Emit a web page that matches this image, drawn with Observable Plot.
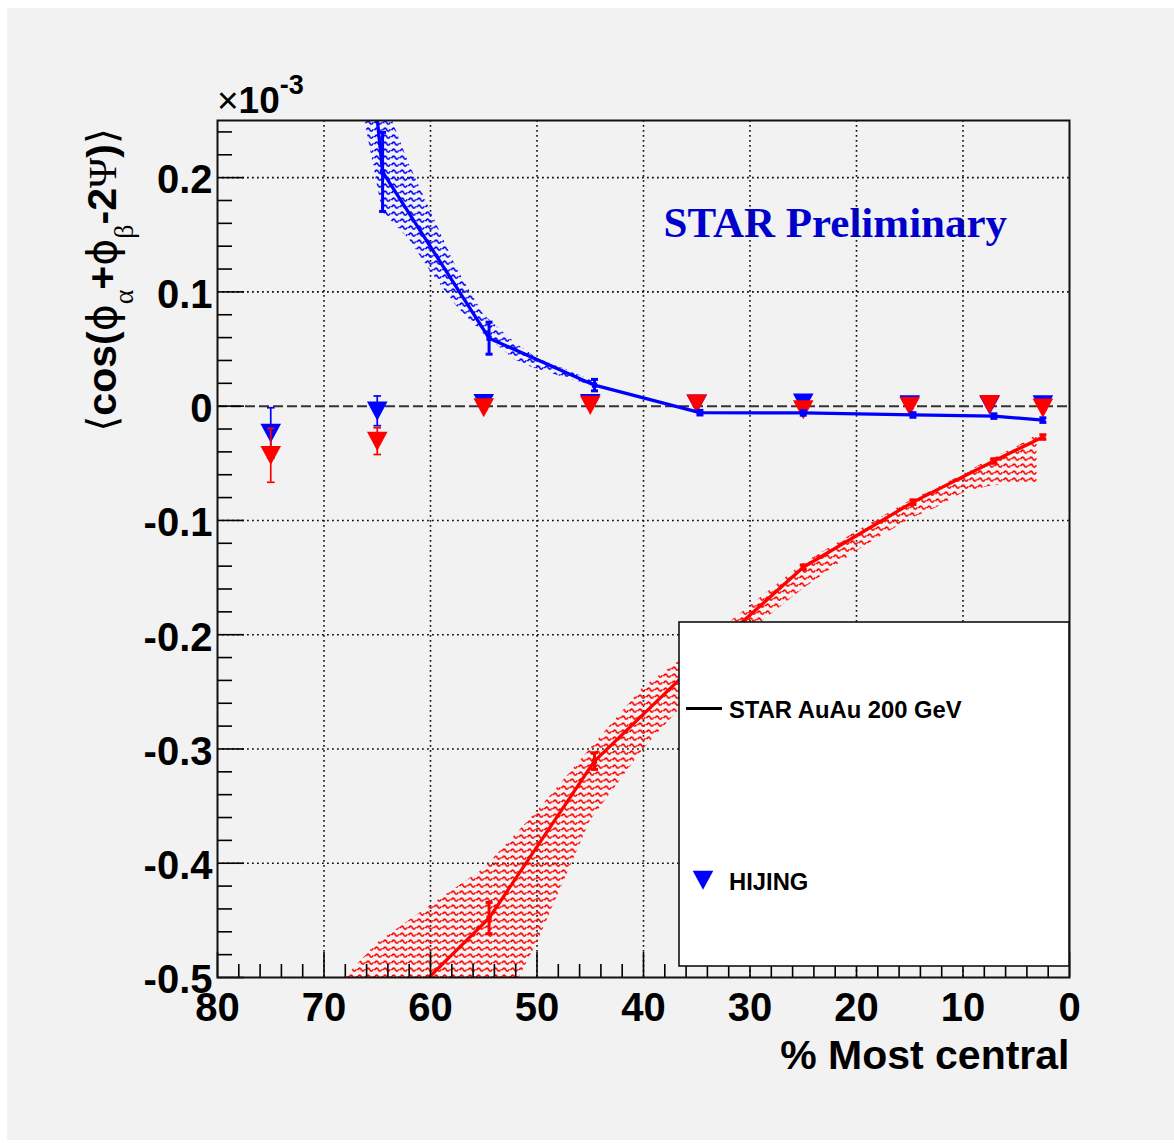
<!DOCTYPE html>
<html><head><meta charset="utf-8">
<script src="https://cdn.jsdelivr.net/npm/d3@7"></script>
<script src="https://cdn.jsdelivr.net/npm/@observablehq/plot@0.6"></script>
<style>
body{margin:0;background:#fff;}
#wrap{position:relative;width:1174px;height:1143px;overflow:hidden;}
#bg{position:absolute;left:7px;top:8px;width:1167px;height:1132px;background:#f2f2f2;}
#chart{position:absolute;left:0;top:0;}
</style></head><body>
<svg width="0" height="0" style="position:absolute">
<defs>
<pattern id="hatchBlue" patternUnits="userSpaceOnUse" width="8.5" height="7">
<path d="M0.6,4.2 C1.8,1.5 3.2,1.5 4.2,3.6 S6.6,5.9 7.8,3.2" fill="none" stroke="#0000ff" stroke-width="1.6"/>
</pattern>
<pattern id="hatchRed" patternUnits="userSpaceOnUse" width="8.5" height="7">
<path d="M0.6,4.2 C1.8,1.5 3.2,1.5 4.2,3.6 S6.6,5.9 7.8,3.2" fill="none" stroke="#ff0000" stroke-width="1.6"/>
</pattern>
</defs></svg>
<div id="wrap"><div id="bg"></div><div id="chart"></div></div>
<script>
// ---- data (y in units of 1e-3) ----
// STAR AuAu 200 GeV, same-charge (blue line)
const starSameX   = [74.5, 64.5, 54.5, 44.6, 34.7, 25, 14.7, 7.1, 2.5];
const starSameY   = [1.13, 0.205, 0.0595, 0.0184, -0.0057, -0.0059, -0.0077, -0.0087, -0.0122];
const starSameErr = [0, 0.0346, 0.014, 0.005, 0.002, 0.002, 0.002, 0.002, 0.002];
// STAR AuAu 200 GeV, opposite-charge (red line)
const starOppX    = [64.5, 54.5, 44.6, 34.7, 25, 14.7, 7.1, 2.5];
const starOppY    = [-0.54, -0.448, -0.3106, -0.222, -0.141, -0.084, -0.048, -0.027];
const starOppErr  = [0, 0.0137, 0.0073, 0.003, 0.002, 0.002, 0.002, 0.002];
// systematic bands
const sameBandX  = [67, 64.5, 62, 60, 57.5, 55, 52, 50, 47, 44.5];
const sameBandLo = [0.29, 0.17, 0.146, 0.118, 0.087, 0.063, 0.040, 0.032, 0.024, 0.017];
const sameBandHi = [0.45, 0.272, 0.212, 0.171, 0.12, 0.08, 0.055, 0.042, 0.031, 0.021];
const oppBandX  = [3, 5, 7.5, 10, 12.5, 15, 20, 25, 30, 35, 40, 45, 50, 55, 60, 65, 70];
const oppBandHi = [-0.025, -0.036, -0.047, -0.060, -0.072, -0.083, -0.110, -0.138, -0.175, -0.212, -0.246, -0.300, -0.355, -0.405, -0.437, -0.47, -0.52];
const oppBandLo = [-0.067, -0.068, -0.070, -0.076, -0.089, -0.099, -0.127, -0.160, -0.197, -0.249, -0.300, -0.363, -0.47, -0.56, -0.62, -0.68, -0.74];
// HIJING
const hijX       = [75, 65, 55, 45, 35, 25, 15, 7.5, 2.5];
const hijSameY   = [-0.0234, -0.0041, 0.0026, 0.0026, 0.0022, 0.0029, 0.0015, 0.001, 0.0015];
const hijSameErr = [0.022, 0.013, 0.002, 0.002, 0.002, 0.002, 0.002, 0.002, 0.002];
const hijOppY    = [-0.043, -0.0306, -0.0011, 0.0009, 0.0022, -0.0029, 0, 0.0017, -0.0015];
const hijOppErr  = [0.0236, 0.0117, 0.002, 0.002, 0.002, 0.002, 0.002, 0.002, 0.002];
// axes
const xMajor = [80, 70, 60, 50, 40, 30, 20, 10, 0];
const xLabels = ["80", "70", "60", "50", "40", "30", "20", "10", "0"];
const yMajor = [-0.5, -0.4, -0.3, -0.2, -0.1, 0, 0.1, 0.2];
const yLabels = ["-0.5", "-0.4", "-0.3", "-0.2", "-0.1", "0", "0.1", "0.2"];
const xMinor = d3.range(0, 81, 2).filter(v => v % 10 !== 0);
const yMinor = d3.range(-25, 13).map(k => k * 0.02).filter(v => Math.abs(v * 10 - Math.round(v * 10)) > 1e-6 && v < 0.251);

// ---- build tables ----
const sameStar = starSameX.map((x, i) => ({x, y: starSameY[i], e: starSameErr[i]}));
const oppStar  = starOppX.map((x, i) => ({x, y: starOppY[i], e: starOppErr[i]}));
const sameBand = sameBandX.map((x, i) => ({x, lo: sameBandLo[i], hi: sameBandHi[i]}));
const oppBand  = oppBandX.map((x, i) => ({x, lo: oppBandLo[i], hi: oppBandHi[i]}));
const hijSame  = hijX.map((x, i) => ({x, y: hijSameY[i], e: hijSameErr[i]}));
const hijOpp   = hijX.map((x, i) => ({x, y: hijOppY[i], e: hijOppErr[i]}));
const sameErrPts = sameStar.filter(d => d.e > 0);
const oppErrPts  = oppStar.filter(d => d.e > 0);

const triDown = {draw(ctx, size) { const r = Math.sqrt(size / Math.PI); ctx.moveTo(-r, -0.9 * r); ctx.lineTo(r, -0.9 * r); ctx.lineTo(0, 0.95 * r); ctx.closePath(); }};
const capSym  = {draw(ctx, size) { const r = Math.sqrt(size / Math.PI); ctx.moveTo(-r, 0); ctx.lineTo(r, 0); }};

const FONT = "Liberation Sans, Arial, Helvetica, sans-serif";
const innerW = 852, innerH = 857;

function errMarks(data, color, width, capR) {
  return [
    Plot.ruleX(data, {x: "x", y1: d => d.y - d.e, y2: d => d.y + d.e, stroke: color, strokeWidth: width, clip: true}),
    Plot.dot(data, {x: "x", y: d => d.y + d.e, symbol: capSym, r: capR, stroke: color, strokeWidth: width, fill: "none", clip: true}),
    Plot.dot(data, {x: "x", y: d => d.y - d.e, symbol: capSym, r: capR, stroke: color, strokeWidth: width, fill: "none", clip: true})
  ];
}

const plot = Plot.plot({
  width: 1174, height: 1143,
  marginLeft: 217, marginRight: 105, marginTop: 120, marginBottom: 166,
  style: {background: "transparent", color: "black", overflow: "visible", fontFamily: FONT},
  x: {domain: [80, 0], axis: null},
  y: {domain: [-0.5, 0.25], axis: null},
  marks: [
    Plot.text(["STAR Preliminary"], {text: d => d, frameAnchor: "top-left", dx: 446, dy: 116, textAnchor: "start", lineAnchor: "bottom",
      fontFamily: "Liberation Serif, DejaVu Serif, serif", fontWeight: "bold", fontSize: 43, fill: "#0000cc"}),
    Plot.gridX(xMajor.filter(v => v > 0 && v < 80), {stroke: "#111", strokeOpacity: 1, strokeWidth: 1.6, strokeDasharray: "1.8,3.2"}),
    Plot.gridY(yMajor.filter(v => v > -0.5 && v !== 0), {stroke: "#111", strokeOpacity: 1, strokeWidth: 1.6, strokeDasharray: "1.8,3.2"}),
    Plot.ruleY([0], {stroke: "#333", strokeWidth: 2, strokeDasharray: "10,4"}),
    // bands
    Plot.areaY(sameBand, {x: "x", y1: "lo", y2: "hi", fill: "url(#hatchBlue)", clip: true}),
    Plot.areaY(oppBand, {x: "x", y1: "lo", y2: "hi", fill: "url(#hatchRed)", clip: true}),
    // HIJING
    ...errMarks(hijSame, "#0000ff", 1.7, 3.8),
    Plot.dot(hijSame, {x: "x", y: "y", symbol: triDown, r: 10.3, fill: "#0000ff", clip: true}),
    ...errMarks(hijOpp, "#ff0000", 1.7, 3.8),
    Plot.dot(hijOpp, {x: "x", y: "y", symbol: triDown, r: 10.3, fill: "#ff0000", clip: true}),
    // STAR
    Plot.line(oppStar, {x: "x", y: "y", stroke: "#ff0000", strokeWidth: 3.3, clip: true}),
    ...errMarks(oppErrPts, "#ff0000", 3, 3.5),
    Plot.dot(oppStar, {x: "x", y: "y", symbol: "square", r: 3, fill: "#ff0000", clip: true}),
    Plot.line(sameStar, {x: "x", y: "y", stroke: "#0000ff", strokeWidth: 3.3, clip: true}),
    ...errMarks(sameErrPts, "#0000ff", 3, 3.5),
    Plot.dot(sameStar, {x: "x", y: "y", symbol: "square", r: 3, fill: "#0000ff", clip: true}),
    // ticks (inside, ROOT style)
    Plot.tickX(xMajor, {x: d => d, insetTop: innerH - 25, stroke: "#000", strokeWidth: 1.6}),
    Plot.tickX(xMinor, {x: d => d, insetTop: innerH - 13, stroke: "#000", strokeWidth: 1.6}),
    Plot.tickY(yMajor, {y: d => d, insetRight: innerW - 27, stroke: "#000", strokeWidth: 1.6}),
    Plot.tickY(yMinor, {y: d => d, insetRight: innerW - 15, stroke: "#000", strokeWidth: 1.6}),
    Plot.frame({stroke: "#111", strokeWidth: 2}),
    // tick labels
    Plot.text(xMajor, {x: d => d, text: (d, i) => xLabels[i], frameAnchor: "bottom", dy: 43, lineAnchor: "bottom",
      fontSize: 40, fontWeight: "bold", fill: "#000"}),
    Plot.text(yMajor, {y: d => d, text: (d, i) => yLabels[i], frameAnchor: "left", dx: -5, dy: 3, textAnchor: "end", lineAnchor: "middle",
      fontSize: 40, fontWeight: "bold", fill: "#000"}),
    Plot.text(["% Most central"], {text: d => d, frameAnchor: "bottom-right", dy: 91, textAnchor: "end", lineAnchor: "bottom",
      fontSize: 41, fontWeight: "bold", fill: "#000"})
  ]
});
document.getElementById("chart").appendChild(plot);

const svg = d3.select(plot);
// y-axis title
const yl = svg.append("text").attr("transform", "translate(116,128) rotate(-90)").attr("text-anchor", "end")
  .attr("font-family", FONT).attr("font-size", 41).attr("font-weight", "bold").attr("fill", "#000");
yl.append("tspan").attr("font-weight", "normal").attr("font-family", "DejaVu Sans").text("⟨");
yl.append("tspan").text("cos(");
yl.append("tspan").attr("font-weight", "normal").attr("font-family", "DejaVu Sans").text("ϕ");
yl.append("tspan").attr("font-size", 28).attr("dy", 17).attr("font-weight", "normal").attr("font-family", "Liberation Serif").text("α");
yl.append("tspan").attr("dy", -17).text("+");
yl.append("tspan").attr("font-weight", "normal").attr("font-family", "DejaVu Sans").text("ϕ");
yl.append("tspan").attr("font-size", 28).attr("dy", 17).attr("font-weight", "normal").attr("font-family", "Liberation Serif").text("β");
yl.append("tspan").attr("dy", -17).text("-2");
yl.append("tspan").attr("font-weight", "normal").attr("font-family", "Liberation Serif").text("Ψ");
yl.append("tspan").text(")");
yl.append("tspan").attr("font-weight", "normal").attr("font-family", "DejaVu Sans").text("⟩");

// exponent label
const mt = svg.append("text").attr("x", 217).attr("y", 113).attr("text-anchor", "start").attr("font-family", FONT).attr("font-size", 37).attr("font-weight", "bold").attr("fill", "#000");
mt.append("tspan").attr("font-weight", "normal").text("×");
mt.append("tspan").text("10");
mt.append("tspan").attr("font-size", 27).attr("dy", -19).text("-3");

// legend
const lg = svg.append("g").attr("text-anchor", "start");
lg.append("rect").attr("x", 679).attr("y", 622).attr("width", 390).attr("height", 344)
  .attr("fill", "#fff").attr("stroke", "#111").attr("stroke-width", 1.6);
lg.append("line").attr("x1", 686).attr("x2", 722).attr("y1", 708.5).attr("y2", 708.5).attr("stroke", "#000").attr("stroke-width", 3.2);
lg.append("text").attr("x", 729).attr("y", 718).attr("text-anchor", "start").attr("font-family", FONT).attr("font-size", 23.8).attr("font-weight", "bold").attr("fill", "#000").text("STAR AuAu 200 GeV");
const tp = d3.path(); triDown.draw(tp, Math.PI * 10.3 * 10.3);
lg.append("path").attr("d", tp.toString()).attr("transform", "translate(703,880)").attr("fill", "#0000ff");
lg.append("text").attr("x", 729).attr("y", 890).attr("text-anchor", "start").attr("font-family", FONT).attr("font-size", 23.8).attr("font-weight", "bold").attr("fill", "#000").text("HIJING");
</script>
</body></html>
